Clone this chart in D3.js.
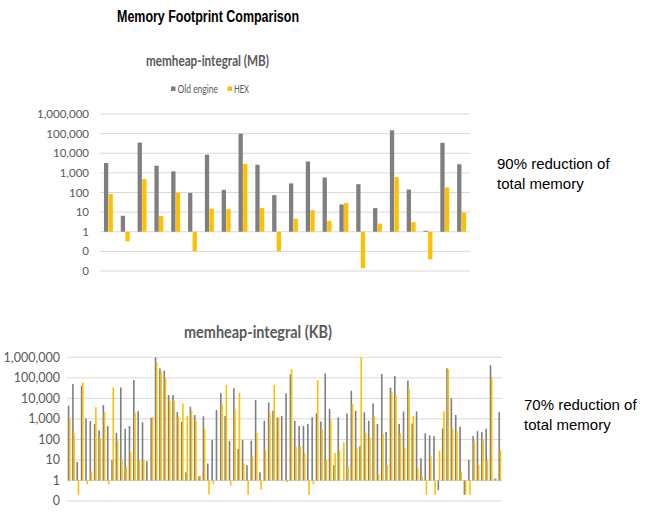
<!DOCTYPE html>
<html>
<head>
<meta charset="utf-8">
<script src="https://cdn.jsdelivr.net/npm/d3@7"></script>
<style>
  body { margin: 0; background: #fff; }
  text { font-family: Lato, "Open Sans", sans-serif; }
</style>
</head>
<body>
<script>
"use strict";

// top chart data (MB), 22 tests
var mbOld = [3200, 6.5, 35000, 2300, 1200, 95, 8500, 137, 100000, 2600, 73, 290, 3800, 580, 24.5, 265, 16, 148000, 142, 1.12, 34000, 2750];
var mbHex = [85, 0.32, 480, 6.3, 96, 0.1, 15, 14, 2900, 16, 0.1, 4.6, 12.6, 3.6, 29, 0.014, 2.6, 600, 3.1, 0.039, 180, 9.6];
var mbTicks = [1000000, 100000, 10000, 1000, 100, 10, 1, 0.1, 0.01];

// bottom chart data (KB), 100 tests
var kbOld = [4400, 50000, 7.8, 41000, 1050, 780, 560, 275, 4700, 450,
  10, 210, 34000, 330, 450, 78000, 2400, 680, 8.8, 1150,
  1000000, 290000, 225000, 14500, 14500, 2200, 720, 2.5, 3900, 1550,
  1.6, 1330, 6.7, 93, 2700, 18000, 1400, 83, 31000, 34,
  93, 5.6, 86, 8300, 2.5, 810, 6300, 2500, 1180, 1400,
  17500, 148000, 810, 450, 450, 560, 1180, 1850, 750, 160000,
  3000, 5.6, 1180, 1, 1850, 23500, 2500, 47, 2100, 810,
  5700, 560, 155000, 230, 33000, 123000, 560, 2300, 73000, 600,
  2300, 12, 200, 156, 145, 0.34, 340, 290000, 10000, 1550,
  415, 0.2, 10, 145, 255, 230, 330, 420000, 1.25, 2200];
var kbHex = [950, 195, 0.2, 60000, 0.66, 2.5, 3700, 117, 2100, 0.66,
  34000, 86, 10, 4.6, 24, 2000, 10, 10, 1, 1200,
  550000, 210000, 100000, 7700, 7700, 1270, 5700, 1400, 2400, 810,
  1.6, 330, 0.21, 0.66, 1, 5500, 45000, 0.57, 2900, 19000,
  6.8, 0.2, 15, 210, 0.36, 28, 2000, 45000, 1180, 1,
  0.83, 270000, 44, 47, 22, 0.2, 0.66, 78000, 320, 10,
  880, 22, 28, 74, 4.6, 5300, 38, 1000000, 210, 125,
  1270, 1.9, 195, 5.4, 22000, 14000, 195, 41, 28000, 1420,
  4.2, 1.5, 0.2, 15, 0.2, 28, 2400, 260000, 330, 255,
  2.5, 0.2, 0.2, 86, 5.6, 100, 10, 100000, 1.25, 30];
var kbTicks = [1000000, 100000, 10000, 1000, 100, 10, 1, 0.1];

var seriesNames = ["Old engine", "HEX"];
var colors = ["#7f7f7f", "#ffc000"];

var width = 650, height = 516;

var svg = d3.select("body").append("svg")
  .attr("width", width)
  .attr("height", height);

var fmt = d3.format(",.0f");

// main title
svg.append("text")
  .attr("x", 117).attr("y", 21.5)
  .attr("textLength", 182).attr("lengthAdjust", "spacingAndGlyphs")
  .style("font-family", "'Liberation Sans', Arial, sans-serif")
  .style("font-weight", "bold").style("font-size", "16px")
  .attr("fill", "#000")
  .text("Memory Footprint Comparison");

function drawChart(opt) {
  var g = svg.append("g");

  var x = d3.scaleBand()
    .domain(d3.range(opt.old.length))
    .range([opt.x0, opt.x1]);

  var y = d3.scaleLog()
    .domain([opt.ticks[opt.ticks.length - 1], opt.ticks[0]])
    .range([opt.y1, opt.y0]);

  // gridlines
  g.selectAll("line.grid")
    .data(opt.ticks).enter()
    .append("line")
    .attr("class", "grid")
    .attr("x1", opt.x0).attr("x2", opt.x1)
    .attr("y1", d => y(d)).attr("y2", d => y(d))
    .attr("stroke", "#d9d9d9").attr("stroke-width", 1);

  // tick labels
  g.selectAll("text.tick")
    .data(opt.ticks).enter()
    .append("text")
    .attr("class", "tick")
    .attr("x", opt.labelX)
    .attr("y", d => y(d))
    .attr("dy", "0.35em")
    .attr("text-anchor", "end")
    .style("font-size", opt.labelSize + "px")
    .attr("fill", "#595959")
    .text(d => fmt(d));

  var bw = opt.barW;
  var base = y(1);
  var series = [opt.old, opt.hex];

  series.forEach(function(vals, s) {
    g.selectAll("rect.s" + s)
      .data(vals).enter()
      .append("rect")
      .attr("class", "s" + s)
      .attr("x", (d, i) => x(i) + x.bandwidth() / 2 - bw + s * (bw - opt.overlap) + opt.overlap / 2)
      .attr("width", bw)
      .attr("y", d => Math.min(y(d), base))
      .attr("height", d => Math.abs(y(d) - base))
      .attr("fill", colors[s]);
  });

  // subtitle
  svg.append("text")
    .attr("x", opt.titleX).attr("y", opt.titleY)
    .attr("textLength", opt.titleW).attr("lengthAdjust", "spacingAndGlyphs")
    .style("font-weight", "bold").style("font-size", opt.titleSize + "px")
    .attr("fill", "#595959")
    .text(opt.title);

  // note on the right
  var note = svg.append("text")
    .style("font-family", "'Liberation Sans', Arial, sans-serif")
    .style("font-size", "15px")
    .attr("fill", "#000");
  opt.note.forEach(function(line, i) {
    note.append("tspan")
      .attr("x", opt.noteX)
      .attr("y", opt.noteY + i * 20)
      .text(line);
  });
}

drawChart({
  old: mbOld, hex: mbHex, ticks: mbTicks,
  x0: 100, x1: 470, y0: 114, y1: 271,
  labelX: 89, labelSize: 11.5,
  barW: 4.3, overlap: -0.3,
  title: "memheap-integral (MB)", titleX: 146, titleY: 66, titleW: 123, titleSize: 14.5,
  note: ["90% reduction of", "total memory"], noteX: 497, noteY: 169
});

drawChart({
  old: kbOld, hex: kbHex, ticks: kbTicks,
  x0: 67, x1: 502, y0: 357.3, y1: 501,
  labelX: 60, labelSize: 12.5,
  barW: 1.6, overlap: 0.4,
  title: "memheap-integral (KB)", titleX: 184, titleY: 338, titleW: 148, titleSize: 16.5,
  note: ["70% reduction of", "total memory"], noteX: 524, noteY: 410
});

// legend (top chart only)
var legend = svg.append("g");
var legX = [171, 227.5];
var legW = [40.5, 15];
seriesNames.forEach(function(n, i) {
  legend.append("rect")
    .attr("x", legX[i]).attr("y", 86.5)
    .attr("width", 4.5).attr("height", 4.5)
    .attr("fill", colors[i]);
  legend.append("text")
    .attr("x", legX[i] + 6.5).attr("y", 92.5)
    .attr("textLength", legW[i]).attr("lengthAdjust", "spacingAndGlyphs")
    .style("font-size", "10.5px")
    .attr("fill", "#595959")
    .text(n);
});
</script>
</body>
</html>
